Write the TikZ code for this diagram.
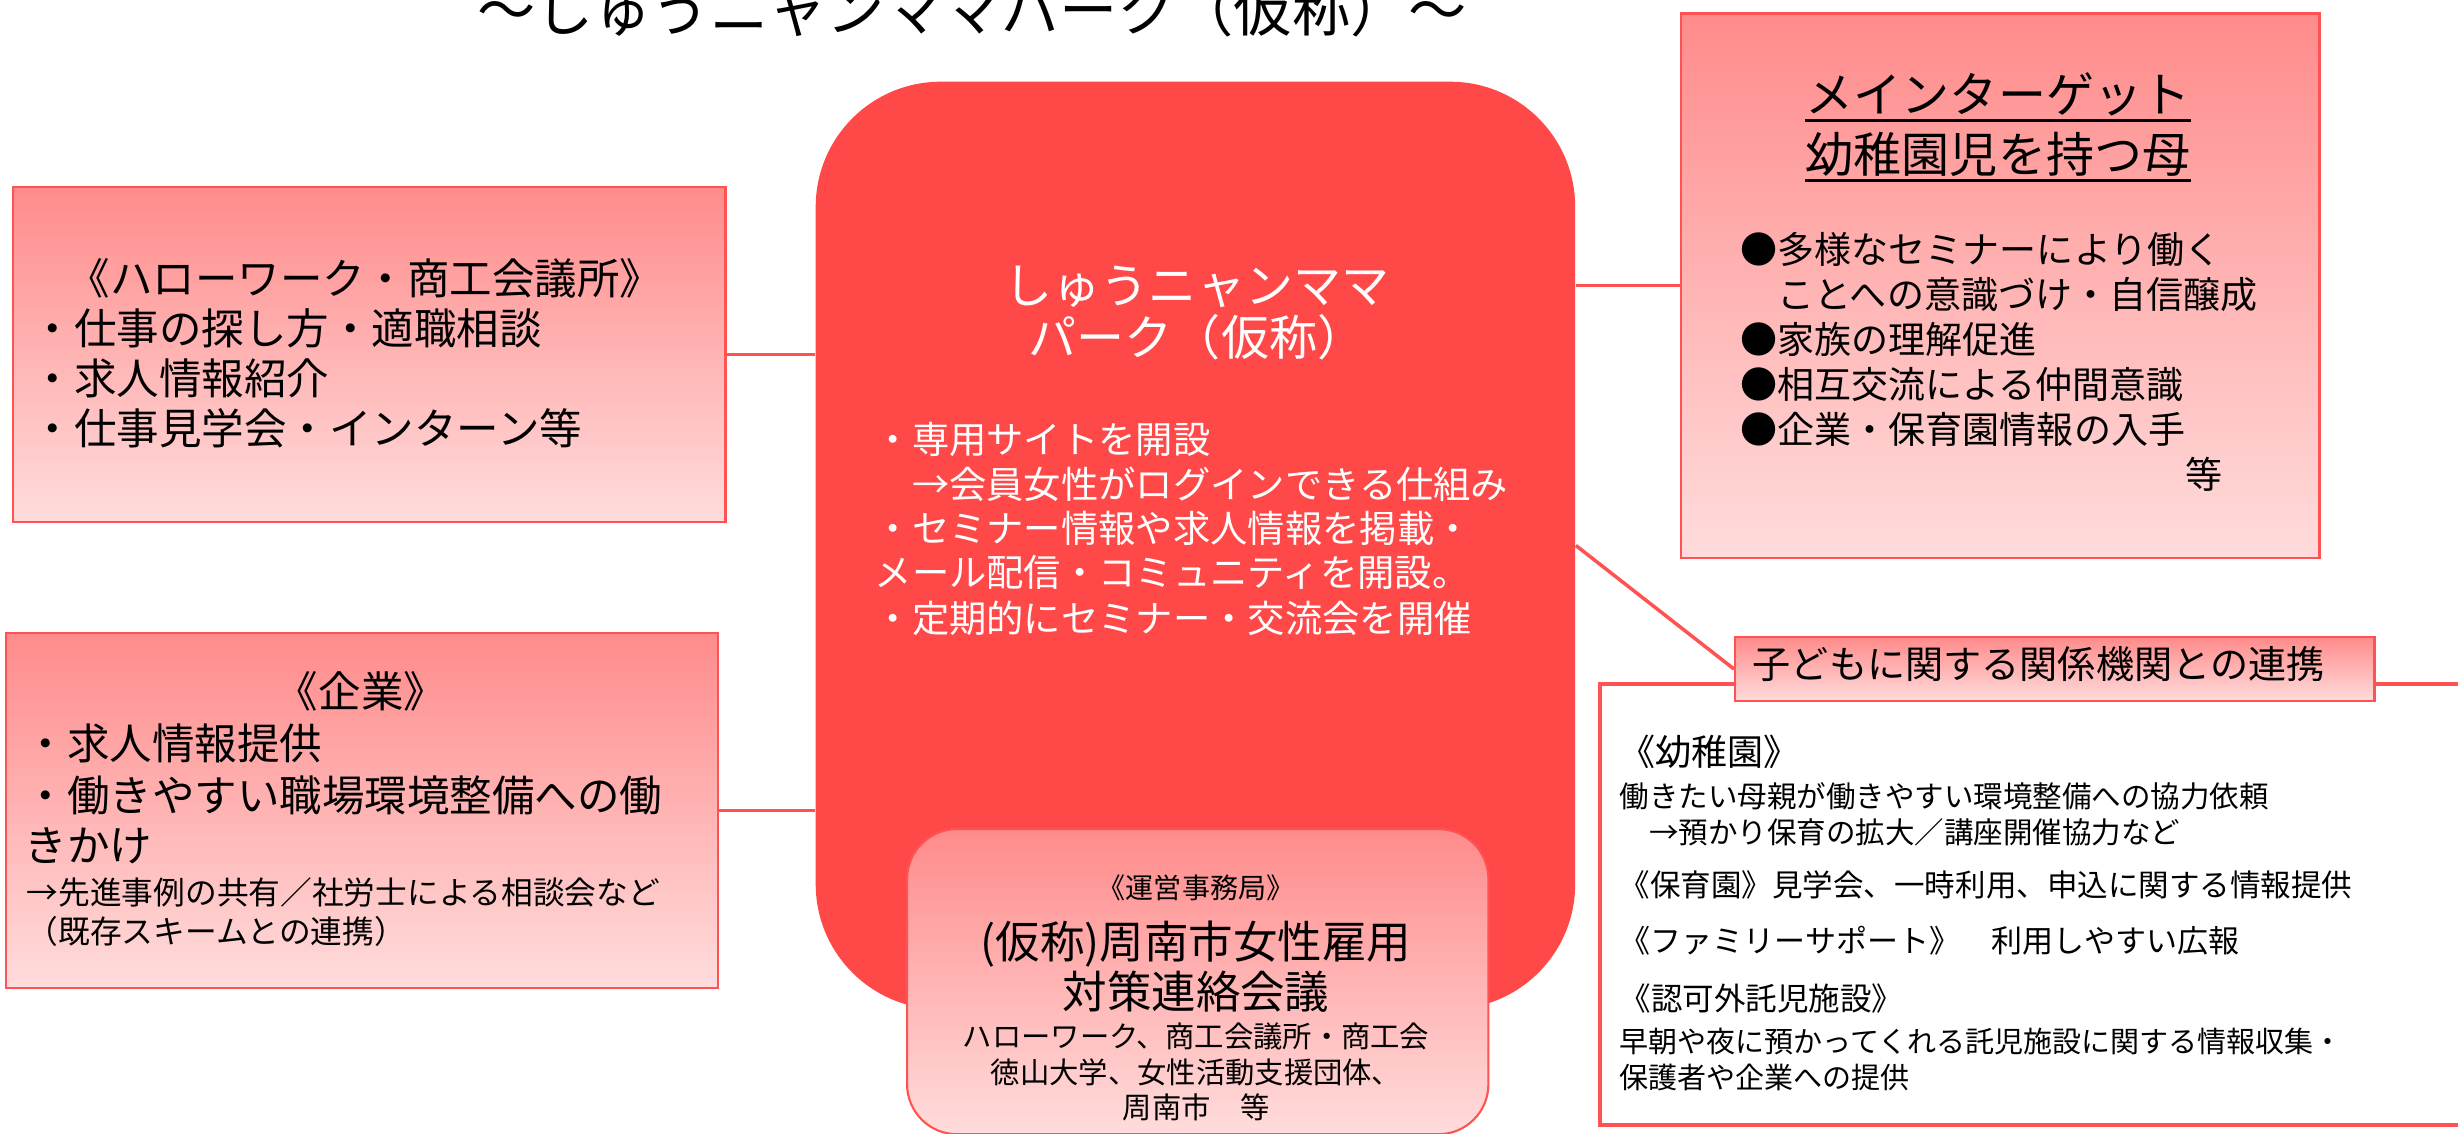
\documentclass[tikz,border=0pt]{standalone}
\usepackage{fontspec}
\setmainfont{Noto Sans CJK JP}
\definecolor{parkred}{HTML}{FF4848}
\definecolor{gtop}{HTML}{FF8B8B}
\definecolor{gbot}{HTML}{FFDCDC}
\definecolor{edge}{HTML}{FF5353}
\tikzset{
  gbox/.style={draw=edge, line width=0.6pt, top color=gtop, bottom color=gbot, inner sep=0pt, anchor=north west},
  conn/.style={draw=edge, line width=1pt},
  uline/.style={draw=black, line width=0.85pt},
  L/.style={inner sep=0pt, anchor=base west},
  C/.style={inner sep=0pt, anchor=base},
}
\newcommand{\fz}[1]{\fontsize{#1pt}{#1pt}\selectfont}
\begin{document}
\begin{tikzpicture}[x=0.01cm,y=-0.01cm]
\useasboundingbox (0,0) rectangle (2458,1134);
\clip (0,0) rectangle (2458,1134);

% title (cut at the top)
\node[C, font=\fz{16.55}] (title) at (972,32) {～しゅうニャンママパーク（仮称）～};

% boxes
\node[gbox, minimum width=7.125cm, minimum height=3.35cm] (hw) at (11.5,186) {};
\node[gbox, minimum width=7.115cm, minimum height=3.55cm] (kg) at (5,632) {};
\node[fill=parkred, draw=none, rounded corners=1.25cm, inner sep=0pt, anchor=north west,
      minimum width=7.59cm, minimum height=9.27cm] (park) at (815,81) {};
\node[gbox, rounded corners=0.5cm, minimum width=5.81cm, minimum height=3.05cm] (unei) at (906,828) {};
\node[gbox, minimum width=6.38cm, minimum height=5.44cm] (target) at (1680,12.5) {};
\node[draw=edge, line width=1pt, fill=white, inner sep=0pt, anchor=north west,
      minimum width=9.2cm, minimum height=4.41cm] (kikan) at (1598,682) {};
\node[gbox, minimum width=6.39cm, minimum height=0.64cm] (label) at (1734,636) {};

% connectors
\draw[conn] (hw.east) -- (hw.east -| park.west);
\draw[conn] (kg.east) -- (kg.east -| park.west);
\draw[conn] (target.west) -- (target.west -| park.east);
\draw[conn] (park.east) -- (label.west);

% left top box text
\begin{scope}[font=\fz{12.09}]
\node[C] (hw0) at (365,295) {《ハローワーク・商工会議所》};
\node[L] (hw1) at (31,345) {・仕事の探し方・適職相談};
\node[L] (hw2) at (31,395) {・求人情報紹介};
\node[L] (hw3) at (31,445) {・仕事見学会・インターン等};
\end{scope}

% left bottom box text
\begin{scope}[font=\fz{12.09}]
\node[C] (kg0) at (361,707) {《企業》};
\node[L] (kg1) at (24,759) {・求人情報提供};
\node[L] (kg2) at (24,811) {・働きやすい職場環境整備への働};
\node[L] (kg3) at (24,861) {きかけ};
\end{scope}
\begin{scope}[font=\fz{9.02}]
\node[L] (kg4) at (26,904) {→先進事例の共有／社労士による相談会など};
\node[L] (kg5) at (26,943) {（既存スキームとの連携）};
\end{scope}

% centre box text
\begin{scope}[text=white, font=\fz{13.66}]
\node[C] (pk0) at (1197,304) {しゅうニャンママ};
\node[C] (pk1) at (1197,356) {パーク（仮称）};
\end{scope}
\begin{scope}[text=white, font=\fz{10.61}]
\node[L] (pk2) at (874,454) {・専用サイトを開設};
\node[L] (pk3) at (874,499) {　→会員女性がログインできる仕組み};
\node[L] (pk4) at (874,543) {・セミナー情報や求人情報を掲載・};
\node[L] (pk5) at (874,587) {メール配信・コミュニティを開設。};
\node[L] (pk6) at (874,633) {・定期的にセミナー・交流会を開催};
\end{scope}

% secretariat box text
\node[C, font=\fz{7.97}] (un0) at (1196,898) {《運営事務局》};
\node[C, font=\fz{12.65}] (un1) at (1196,958) {(仮称)周南市女性雇用};
\node[C, font=\fz{12.65}] (un2) at (1196,1008) {対策連絡会議};
\begin{scope}[font=\fz{8.34}]
\node[C] (un3) at (1196,1047) {ハローワーク、商工会議所・商工会};
\node[C] (un4) at (1196,1083) {徳山大学、女性活動支援団体、};
\node[C] (un5) at (1196,1118) {周南市　等};
\end{scope}

% main target box text
\begin{scope}[font=\fz{13.66}]
\node[C] (tg0) at (1998,113) {メインターゲット};
\node[C] (tg1) at (1998,173) {幼稚園児を持つ母};
\end{scope}
\draw[uline] ([yshift=-2pt]tg0.base west) -- ([yshift=-2pt]tg0.base east);
\draw[uline] ([yshift=-2pt]tg1.base west) -- ([yshift=-2pt]tg1.base east);
\begin{scope}[font=\fz{10.53}]
\node[L] (tg2) at (1740,264) {●多様なセミナーにより働く};
\node[L] (tg3) at (1740,309) {　ことへの意識づけ・自信醸成};
\node[L] (tg4) at (1740,354) {●家族の理解促進};
\node[L] (tg5) at (1740,399) {●相互交流による仲間意識};
\node[L] (tg6) at (1740,444) {●企業・保育園情報の入手};
\node[C] (tg7) at (2204,489) {等};
\end{scope}

% label
\node[L, font=\fz{10.85}] (lb0) at (1752,679) {子どもに関する関係機関との連携};

% related organisations text
\node[L, font=\fz{10.24}] (kk0) at (1619,765) {《幼稚園》};
\node[L, font=\fz{8.39}] (kk1) at (1619,807) {働きたい母親が働きやすい環境整備への協力依頼};
\node[L, font=\fz{8.39}] (kk2) at (1619,843) {　→預かり保育の拡大／講座開催協力など};
\node[L, font=\fz{8.68}] (kk3) at (1619,896) {《保育園》見学会、一時利用、申込に関する情報提供};
\node[L, font=\fz{8.82}] (kk4) at (1619,952) {《ファミリーサポート》　利用しやすい広報};
\node[L, font=\fz{8.96}] (kk5) at (1619,1010) {《認可外託児施設》};
\node[L, font=\fz{8.25}] (kk6) at (1619,1052) {早朝や夜に預かってくれる託児施設に関する情報収集・};
\node[L, font=\fz{8.25}] (kk7) at (1619,1088) {保護者や企業への提供};
\end{tikzpicture}
\end{document}
